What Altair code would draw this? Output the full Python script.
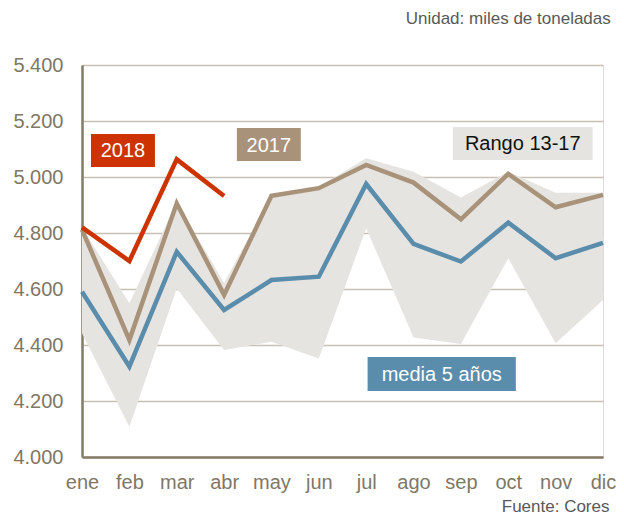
import altair as alt
import pandas as pd

months = ["ene", "feb", "mar", "abr", "may", "jun", "jul", "ago", "sep", "oct", "nov", "dic"]
y2018 = [4820, 4700, 5063, 4932]
y2017 = [4812, 4418, 4906, 4579, 4933, 4960, 5043, 4980, 4849, 5011, 4892, 4936]
media5 = [4590, 4323, 4733, 4525, 4632, 4644, 4975, 4761, 4698, 4837, 4710, 4765]
range_max = [4820, 4549, 4910, 4621, 4935, 4965, 5067, 5019, 4927, 5019, 4944, 4944]
range_min = [4442, 4108, 4602, 4382, 4412, 4352, 4817, 4427, 4404, 4710, 4406, 4561]

label_text = ["2018", "2017", "Rango 13-17", "media 5 años"]
label_x1 = [0.19, 3.27, 7.83, 6.03]
label_x2 = [1.54, 4.62, 10.78, 9.16]
label_y1 = [5036, 5057, 5061, 4236]
label_y2 = [5154, 5175, 5179, 4357]
label_fill = ["#cc3300", "#a8937a", "#e6e4e1", "#5a8dab"]
label_color = ["#ffffff", "#ffffff", "#111111", "#ffffff"]

C2018, C2017, CMED, CRANGE = "#cc3300", "#a8937a", "#5a8dab", "#e6e4e1"

idx = list(range(12))
range_df = pd.DataFrame({"i": idx, "lo": range_min, "hi": range_max})
df18 = pd.DataFrame({"i": idx[:len(y2018)], "v": y2018})
df17 = pd.DataFrame({"i": idx, "v": y2017})
dfm = pd.DataFrame({"i": idx, "v": media5})
lab = pd.DataFrame({"text": label_text, "x1": label_x1, "x2": label_x2,
                    "y1": label_y1, "y2": label_y2, "fill": label_fill, "tc": label_color})
lab["xc"] = (lab["x1"] + lab["x2"]) / 2
lab["yc"] = (lab["y1"] + lab["y2"]) / 2

month_expr = "[" + ",".join("'%s'" % m for m in months) + "][datum.value]"

xscale = alt.Scale(domain=[0, 11], nice=False, zero=False)
yscale = alt.Scale(domain=[4000, 5400], nice=False, zero=False)

FONT = "Liberation Sans"

xaxis = alt.Axis(values=idx, labelExpr=month_expr, grid=False, ticks=False,
                 domainColor="#857a66", domainWidth=2.5, labelFontSize=20,
                 labelColor="#7f7765", labelFont=FONT, labelPadding=15,
                 labelFlush=False, labelOverlap=False, labelBound=False,
                 title="Fuente: Cores", titleFontSize=17, titleColor="#595959",
                 titleFont=FONT, titleFontWeight="normal", titleAnchor="end",
                 titleAlign="right", titleBaseline="alphabetic", titleX=527, titleY=54)
yaxis = alt.Axis(values=list(range(4000, 5401, 200)),
                 labelExpr="replace(format(datum.value, ',.0f'), ',', '.')",
                 grid=True, gridColor="#c8c0b2", gridWidth=1.5, ticks=False,
                 domainColor="#857a66", domainWidth=2.5, labelFontSize=20,
                 labelColor="#7f7765", labelFont=FONT, labelPadding=19, title=None)

base_x = alt.X("i:Q", scale=xscale, axis=xaxis)

area = alt.Chart(range_df).mark_area(color=CRANGE, opacity=1).encode(
    x=base_x,
    y=alt.Y("lo:Q", scale=yscale, axis=yaxis),
    y2="hi:Q",
)

def line(df, color):
    return alt.Chart(df).mark_line(color=color, strokeWidth=4.5).encode(
        x=alt.X("i:Q", scale=xscale),
        y=alt.Y("v:Q", scale=yscale),
    )

boxes = alt.Chart(lab).mark_rect().encode(
    x=alt.X("x1:Q", scale=xscale), x2="x2:Q",
    y=alt.Y("y1:Q", scale=yscale), y2="y2:Q",
    color=alt.Color("fill:N", scale=None),
)
texts = alt.Chart(lab).mark_text(fontSize=20, font=FONT, align="center", baseline="middle", dy=1).encode(
    x=alt.X("xc:Q", scale=xscale),
    y=alt.Y("yc:Q", scale=yscale),
    text="text:N",
    color=alt.Color("tc:N", scale=None),
)

chart = alt.layer(area, line(dfm, CMED), line(df17, C2017), line(df18, C2018), boxes, texts).properties(
    width=521, height=392,
    autosize=alt.AutoSizeParams(type="none"),
    padding={"left": 74, "top": 57, "right": 13, "bottom": 58},
    title=alt.TitleParams("Unidad: miles de toneladas", anchor="end", fontSize=17,
                          color="#595959", font=FONT, fontWeight="normal", offset=27, dx=-5),
).configure_view(stroke=None).configure(background="white")

chart.save("out.html", embed_options={"renderer": "svg", "actions": False})
